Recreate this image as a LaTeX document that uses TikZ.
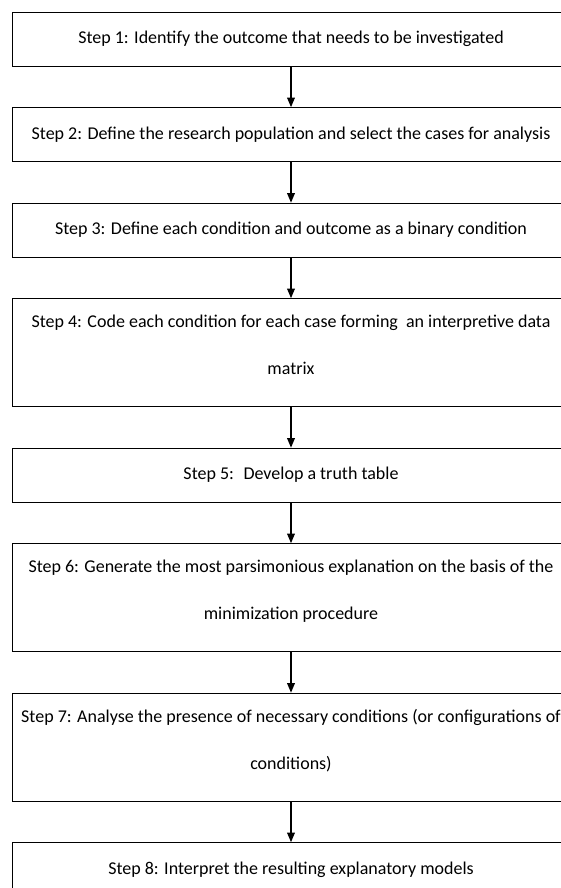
\documentclass[tikz,border=0pt]{standalone}
\usepackage{fontspec}
\setmainfont{Carlito}
\usepackage{tikz}
\usetikzlibrary{arrows, positioning}
\tikzstyle{stepbox} = [rectangle, minimum width=558pt, minimum height=54pt, inner sep=0pt, align=center, draw=black, line width=0.8pt, font=\fontsize{18pt}{47pt}\selectfont]
\tikzstyle{tallbox} = [stepbox, minimum height=108pt, text depth=16pt]
\tikzstyle{arrow} = [line width=1.2pt,->,>=triangle 45]

\begin{document}
\begin{tikzpicture}[x=1pt, y=1pt, node distance=40.7pt]
\useasboundingbox (0,0) rectangle (561,-888);

% Steps
\node (s1) [stepbox] at (291,-39) {Step 1: Identify the outcome that needs to be investigated};
\node (s2) [stepbox, below=of s1] {Step 2: Define the research population and select the cases for analysis};
\node (s3) [stepbox, below=of s2] {Step 3: Define each condition and outcome as a binary condition};
\node (s4) [tallbox, below=of s3] {Step 4: Code each condition for each case forming~ an interpretive data\\matrix};
\node (s5) [stepbox, below=of s4] {Step 5:~ Develop a truth table};
\node (s6) [tallbox, below=of s5] {Step 6: Generate the most parsimonious explanation on the basis of the\\minimization procedure};
\node (s7) [tallbox, below=of s6] {Step 7: Analyse the presence of necessary conditions (or configurations of\\conditions)};
\node (s8) [stepbox, below=of s7] {Step 8: Interpret the resulting explanatory models};

% Arrows
\draw [arrow] (s1) -- (s2);
\draw [arrow] (s2) -- (s3);
\draw [arrow] (s3) -- (s4);
\draw [arrow] (s4) -- (s5);
\draw [arrow] (s5) -- (s6);
\draw [arrow] (s6) -- (s7);
\draw [arrow] (s7) -- (s8);

\end{tikzpicture}
\end{document}
